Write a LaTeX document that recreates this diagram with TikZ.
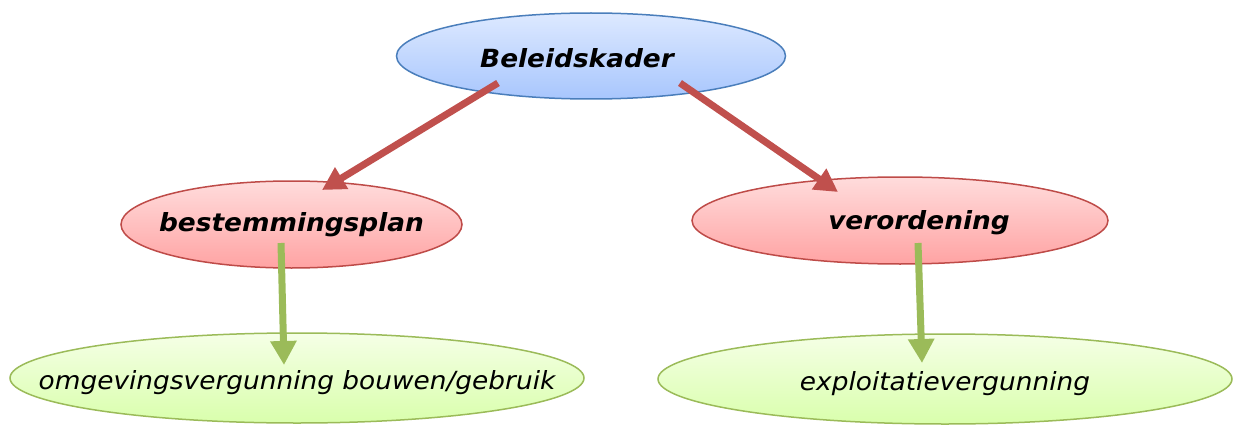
\documentclass[tikz,border=0pt]{standalone}
\usepackage{fontspec}
\setmainfont{DejaVu Sans}[FakeStretch=1.055]
\usetikzlibrary{shapes.geometric,arrows.meta,calc}
\definecolor{bluetop}{HTML}{DDE9FF}
\definecolor{bluebot}{HTML}{A8C6FD}
\definecolor{blueline}{HTML}{4A7EBB}
\definecolor{redtop}{HTML}{FFDCDC}
\definecolor{redbot}{HTML}{FFA3A3}
\definecolor{redline}{HTML}{BE4B48}
\definecolor{greentop}{HTML}{F5FFE6}
\definecolor{greenbot}{HTML}{D9FFAC}
\definecolor{greenline}{HTML}{9BBB59}
\definecolor{redarrow}{HTML}{C0504D}
\definecolor{greenarrow}{HTML}{9BBB59}
\tikzset{
  ell/.style={ellipse, inner sep=0pt, line width=1.5pt},
  blueell/.style={ell, draw=blueline, top color=bluetop, bottom color=bluebot},
  redell/.style={ell, draw=redline, top color=redtop, bottom color=redbot},
  greenell/.style={ell, draw=greenline, top color=greentop, bottom color=greenbot},
  boldlab/.style={font=\fontsize{25}{28}\selectfont\bfseries\itshape, inner sep=0pt},
  normlab/.style={font=\fontsize{25}{28}\selectfont\itshape, inner sep=0pt},
  redarr/.style={draw=redarrow, line width=7pt, -{Triangle[length=23pt,width=24pt]}, fill=redarrow},
  greenarr/.style={draw=greenarrow, line width=7pt, -{Triangle[length=24pt,width=25pt]}, fill=greenarrow},
}
\begin{document}
\begin{tikzpicture}[x=1pt,y=1pt]
\useasboundingbox (0,0) rectangle (1234,424);
\node[blueell, minimum width=389pt, minimum height=86pt] (bel) at (591,368) {};
\node[redell, minimum width=341pt, minimum height=87pt] (best) at (291.5,199.5) {};
\node[redell, minimum width=416pt, minimum height=87pt] (ver) at (900,203.5) {};
\node[greenell, minimum width=574pt, minimum height=90pt] (omg) at (297,46) {};
\node[greenell, minimum width=574pt, minimum height=90pt] (exp) at (945,45) {};
\node[boldlab] (belt) at ($(bel.center)+(-14,-2)$) {Beleidskader};
\node[boldlab] (bestt) at ($(best.center)+(0,0)$) {bestemmingsplan};
\node[boldlab] (vert) at ($(ver.center)+(19,-2)$) {verordening};
\node[normlab] (omgt) at ($(omg.center)+(0,-5)$) {omgevingsvergunning bouwen/gebruik};
\node[normlab] (expt) at ($(exp.center)+(0,-5)$) {exploitatievergunning};
\coordinate (r1s) at ($(bel.center)+(-93,-27)$);
\coordinate (r1e) at ($(best.center)+(30.5,34.5)$);
\coordinate (r2s) at ($(bel.center)+(89,-27)$);
\coordinate (r2e) at ($(ver.center)+(-62,28.5)$);
\coordinate (g1s) at ($(best.center)+(-10.5,-18.5)$);
\coordinate (g1e) at ($(omg.center)+(-13,13)$);
\coordinate (g2s) at ($(ver.center)+(18,-22.5)$);
\coordinate (g2e) at ($(exp.center)+(-23,16)$);
\draw[redarr] (r1s) -- (r1e);
\draw[redarr] (r2s) -- (r2e);
\draw[greenarr] (g1s) -- (g1e);
\draw[greenarr] (g2s) -- (g2e);
\end{tikzpicture}
\end{document}
